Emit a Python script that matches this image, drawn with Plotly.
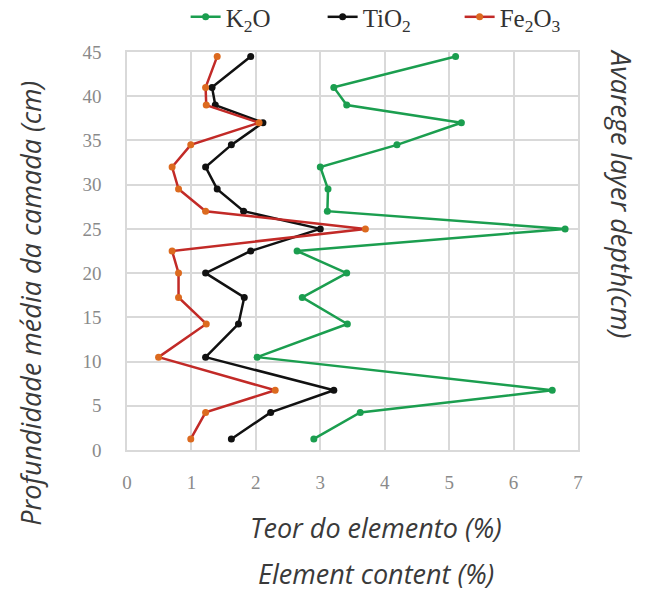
import plotly.graph_objects as go

# Average layer depth (cm) and element contents (%)
depth = [1.25, 4.25, 6.75, 10.5, 14.25, 17.25, 20, 22.5, 25, 27, 29.5, 32, 34.5, 37, 39, 41, 44.5]
k2o   = [2.90, 3.62, 6.60, 2.02, 3.42, 2.72, 3.41, 2.64, 6.80, 3.11, 3.12, 3.00, 4.19, 5.19, 3.41, 3.21, 5.10]
tio2  = [1.62, 2.23, 3.21, 1.22, 1.73, 1.82, 1.22, 1.92, 3.00, 1.81, 1.40, 1.22, 1.62, 2.11, 1.37, 1.32, 1.92]
fe2o3 = [0.99, 1.22, 2.30, 0.49, 1.23, 0.80, 0.80, 0.70, 3.70, 1.22, 0.80, 0.70, 0.99, 2.05, 1.23, 1.22, 1.40]

x_ticks = [0, 1, 2, 3, 4, 5, 6, 7]
y_ticks = [0, 5, 10, 15, 20, 25, 30, 35, 40, 45]

series = [
    ("K<sub>2</sub>O", k2o, "#1b9e4f", "#1b9e4f"),
    ("TiO<sub>2</sub>", tio2, "#111111", "#111111"),
    ("Fe<sub>2</sub>O<sub>3</sub>", fe2o3, "#c22a27", "#dc6a1f"),
]

serif = "Times New Roman, Liberation Serif, serif"

fig = go.Figure()
for name, vals, lc, mc in series:
    fig.add_trace(go.Scatter(
        x=vals, y=depth, name=name, mode="lines+markers",
        line=dict(color=lc, width=2.5),
        marker=dict(color=mc, size=7),
    ))

grid = "#d9d9d9"
tick_font = dict(family=serif, size=19, color="#8a8a8a")
fig.update_xaxes(range=[0, 7], tickvals=x_ticks, showgrid=True, gridcolor=grid, gridwidth=1.5,
                 showline=True, linecolor=grid, linewidth=1.5, mirror=True, zeroline=False,
                 ticks="", tickfont=tick_font, ticklabelstandoff=14, fixedrange=True)
fig.update_yaxes(range=[0, 45], tickvals=y_ticks, showgrid=True, gridcolor=grid, gridwidth=1.5,
                 showline=True, linecolor=grid, linewidth=1.5, mirror=True, zeroline=False,
                 ticks="", tickfont=tick_font, ticklabelstandoff=20, fixedrange=True)

title_font = dict(family="Open Sans", size=27, color="#3a3a3a")
annots = [
    dict(text="<i>Profundidade média da camada (cm)</i>", x=-0.213, y=0.37, textangle=-90),
    dict(text="<i>Avarege layer depth(cm)</i>", x=1.098, y=0.645, textangle=90),
    dict(text="<i>Teor do elemento (%)</i>", x=0.552, y=-0.195, textangle=0),
    dict(text="<i>Element content (%)</i>", x=0.552, y=-0.31, textangle=0),
]
for a in annots:
    fig.add_annotation(xref="paper", yref="paper", showarrow=False, font=title_font,
                       xanchor="center", yanchor="middle", **a)

fig.update_layout(
    width=646, height=592,
    margin=dict(l=127, r=68, t=52, b=142, autoexpand=False),
    paper_bgcolor="white", plot_bgcolor="white",
    font=dict(family=serif),
    showlegend=True,
    legend=dict(orientation="h", x=0.13, y=1.03, yanchor="bottom", xanchor="left",
                font=dict(family=serif, size=25, color="#333333"),
                itemwidth=30, entrywidth=92, entrywidthmode="pixels",
                bgcolor="rgba(0,0,0,0)"),
)

fig.write_html("out.html")
